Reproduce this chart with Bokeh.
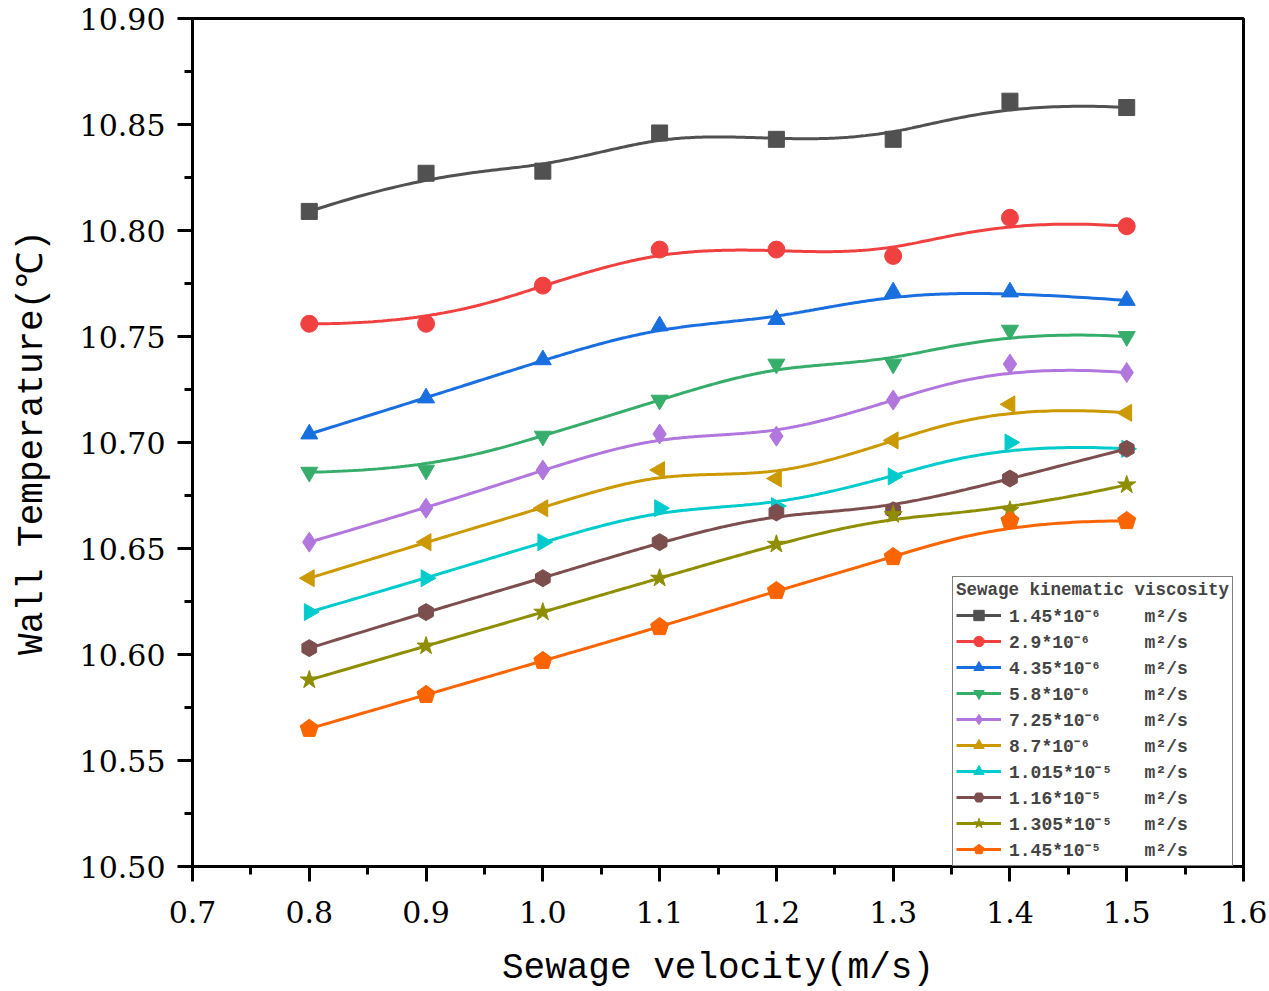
import numpy as np
from bokeh.plotting import figure
from bokeh.models import (ColumnDataSource, Legend, LegendItem, SingleIntervalTicker,
                          PrintfTickFormatter, Range1d)
from bokeh.embed import file_html
from bokeh.resources import INLINE

# ---------------- data ----------------
velocity = [0.8, 0.9, 1.0, 1.1, 1.2, 1.3, 1.4, 1.5]

viscosity_labels = ["1.45*10⁻⁶", "2.9*10⁻⁶", "4.35*10⁻⁶", "5.8*10⁻⁶", "7.25*10⁻⁶",
                    "8.7*10⁻⁶", "1.015*10⁻⁵", "1.16*10⁻⁵", "1.305*10⁻⁵", "1.45*10⁻⁵"]

t_1_45e6  = [10.809, 10.827, 10.828, 10.846, 10.843, 10.843, 10.861, 10.858]
t_2_9e6   = [10.756, 10.756, 10.774, 10.791, 10.791, 10.788, 10.806, 10.802]
t_4_35e6  = [10.704, 10.721, 10.739, 10.755, 10.758, 10.771, 10.771, 10.767]
t_5_8e6   = [10.686, 10.687, 10.703, 10.720, 10.737, 10.737, 10.753, 10.750]
t_7_25e6  = [10.653, 10.669, 10.687, 10.704, 10.703, 10.720, 10.737, 10.733]
t_8_7e6   = [10.636, 10.653, 10.669, 10.687, 10.683, 10.701, 10.718, 10.714]
t_1_015e5 = [10.620, 10.636, 10.653, 10.669, 10.670, 10.684, 10.700, 10.697]
t_1_16e5  = [10.603, 10.620, 10.636, 10.653, 10.667, 10.668, 10.683, 10.697]
t_1_305e5 = [10.588, 10.604, 10.620, 10.636, 10.652, 10.666, 10.668, 10.680]
t_1_45e5  = [10.565, 10.581, 10.597, 10.613, 10.630, 10.646, 10.663, 10.663]

series = [t_1_45e6, t_2_9e6, t_4_35e6, t_5_8e6, t_7_25e6,
          t_8_7e6, t_1_015e5, t_1_16e5, t_1_305e5, t_1_45e5]

colors = ["#515151", "#F14040", "#1A6FDF", "#37AD6B", "#B177DE",
          "#CC9900", "#00CBCC", "#7D4E4E", "#8E8E00", "#FB6501"]
markers = ["square", "circle", "triangle", "inverted_triangle", "diamond",
           "triangle", "triangle", "hex", "star", "pentagon"]
angles = [0, 0, 0, 0, 0, np.pi / 2, -np.pi / 2, np.pi / 6, 0, 0]
sizes = [16, 17, 17, 17, 20, 17, 17, 17, 19, 17]


def bspline(xs, ys, n=300, k=3):
    """Clamped cubic B-spline using the data points as control points."""
    P = np.column_stack([xs, ys]).astype(float)
    m = len(P)
    knots = np.concatenate([np.zeros(k), np.arange(m - k + 1), np.full(k, m - k)]).astype(float)
    t = np.linspace(0, m - k, n)
    t[-1] -= 1e-9
    N = np.zeros((n, len(knots) - 1))
    for i in range(len(knots) - 1):
        N[:, i] = (knots[i] <= t) & (t < knots[i + 1])
    for d in range(1, k + 1):
        Nn = np.zeros((n, len(knots) - 1 - d))
        for i in range(len(knots) - 1 - d):
            a = knots[i + d] - knots[i]
            b = knots[i + d + 1] - knots[i + 1]
            term = 0
            if a > 0:
                term = term + (t - knots[i]) / a * N[:, i]
            if b > 0:
                term = term + (knots[i + d + 1] - t) / b * N[:, i + 1]
            Nn[:, i] = term
        N = Nn
    C = N @ P
    return C[:, 0], C[:, 1]


p = figure(width=1269, height=991, output_backend="svg", toolbar_location=None,
           x_range=Range1d(0.7, 1.6), y_range=Range1d(10.50, 10.90),
           min_border_left=192, min_border_right=26, min_border_top=18, min_border_bottom=125)
p.background_fill_color = "white"
p.border_fill_color = "white"
p.grid.visible = False
p.outline_line_color = "black"
p.outline_line_width = 3

items = []
for vals, col, mk, ang, sz, lab in zip(series, colors, markers, angles, sizes, viscosity_labels):
    sx, sy = bspline(velocity, vals)
    ln = p.line(sx, sy, line_color=col, line_width=3)
    src = ColumnDataSource(dict(x=velocity, y=vals))
    if mk == "pentagon":
        mr = p.ngon(x="x", y="y", radius=9.5, radius_units="screen", n=5, source=src,
                    fill_color=col, line_color=col)
    else:
        mr = p.scatter(x="x", y="y", marker=mk, size=sz, angle=ang, source=src,
                       fill_color=col, line_color=col)
    pad = "\u00a0" * max(1, 13 - len(lab))
    items.append(LegendItem(label=lab + pad + "m²/s", renderers=[ln, mr]))

legend = Legend(items=items, location=(760, 0), title="Sewage kinematic viscosity",
                title_text_font="Liberation Mono", title_text_font_style="bold",
                title_text_font_size="17.5px", title_standoff=2,
                label_text_font="Liberation Mono", label_text_font_style="bold",
                label_text_font_size="18px", label_height=26, glyph_height=26,
                glyph_width=45, label_standoff=8, spacing=0, padding=3, margin=0,
                border_line_color="black", border_line_width=1.5,
                background_fill_color="white", background_fill_alpha=1)
p.add_layout(legend)

for ax in (p.xaxis[0], p.yaxis[0]):
    ax.axis_line_width = 3
    ax.major_tick_line_width = 3
    ax.minor_tick_line_width = 3
    ax.major_tick_out = 15
    ax.major_tick_in = 0
    ax.minor_tick_out = 8
    ax.minor_tick_in = 0
    ax.major_label_text_font = "DejaVu Serif"
    ax.major_label_text_font_size = "30px"
    ax.major_label_text_color = "black"
    ax.axis_label_text_font = "Liberation Mono"
    ax.axis_label_text_font_size = "36px"
    ax.axis_label_text_font_style = "normal"
    ax.axis_label_text_color = "black"

p.xaxis[0].major_label_standoff = 19
p.yaxis[0].major_label_standoff = 12
p.xaxis[0].ticker = SingleIntervalTicker(interval=0.1, num_minor_ticks=2)
p.yaxis[0].ticker = SingleIntervalTicker(interval=0.05, num_minor_ticks=2)
p.xaxis[0].formatter = PrintfTickFormatter(format="%.1f")
p.yaxis[0].formatter = PrintfTickFormatter(format="%.2f")
p.xaxis[0].axis_label = "Sewage velocity(m/s)"
p.yaxis[0].axis_label = "Wall Temperature(℃)"
p.xaxis[0].axis_label_standoff = 22
p.yaxis[0].axis_label_standoff = 24

open("out.html", "w").write(file_html(p, INLINE))
